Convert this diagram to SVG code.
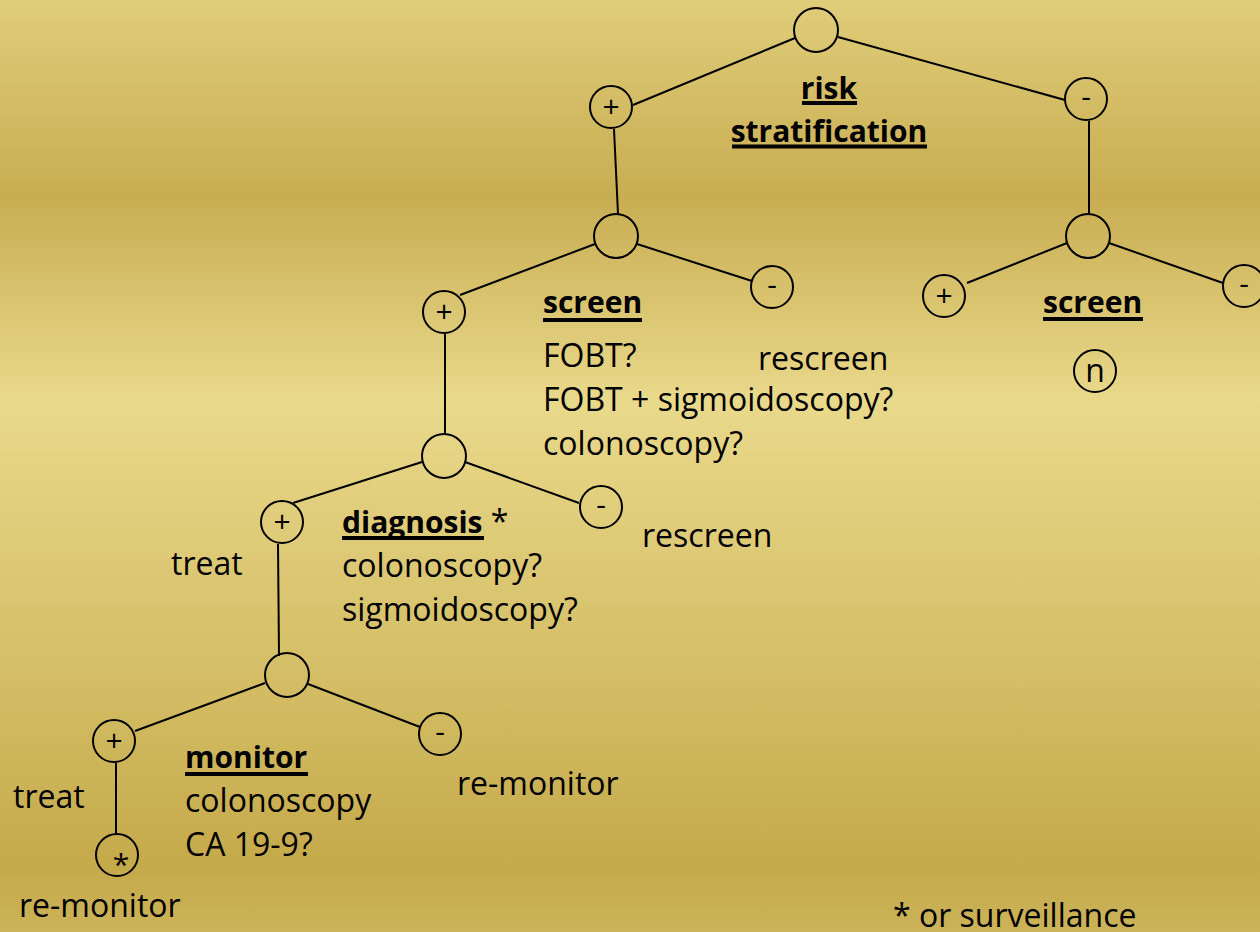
<svg xmlns="http://www.w3.org/2000/svg" width="1260" height="932" viewBox="0 0 1260 932">
<defs>
<linearGradient id="bg" x1="0" y1="0" x2="0" y2="1">
<stop offset="0" stop-color="#e0cd7a"/>
<stop offset="0.21" stop-color="#c8ad52"/>
<stop offset="0.43" stop-color="#e9d98b"/>
<stop offset="0.93" stop-color="#c5aa4b"/>
<stop offset="1" stop-color="#ccb359"/>
</linearGradient>
<style>
text{font-family:"Open Sans","Noto Sans",sans-serif;font-size:32px;fill:#000}
.b{font-weight:bold;font-size:30px}
.s{font-size:30px}
.c{text-anchor:middle}
circle{fill:none;stroke:#000;stroke-width:2}
line{stroke:#000;stroke-width:2}
.u{stroke-width:4}
</style>
</defs>
<rect width="1260" height="932" fill="url(#bg)"/>
<g id="connectors">
<line x1="795" y1="38" x2="633" y2="105"/>
<line x1="838" y1="37" x2="1065" y2="100"/>
<line x1="614" y1="129" x2="618" y2="214"/>
<line x1="1089" y1="121" x2="1089" y2="214"/>
<line x1="595" y1="244" x2="460" y2="295"/>
<line x1="637" y1="244" x2="752" y2="281"/>
<line x1="1067" y1="243" x2="967" y2="283"/>
<line x1="1109" y1="243" x2="1223" y2="283"/>
<line x1="445" y1="334" x2="445" y2="434"/>
<line x1="422" y1="462" x2="293" y2="503"/>
<line x1="465" y1="462" x2="579" y2="503"/>
<line x1="278" y1="544" x2="279" y2="656"/>
<line x1="265" y1="683" x2="135" y2="731"/>
<line x1="308" y1="684" x2="420" y2="727"/>
<line x1="116" y1="763" x2="116" y2="833"/>
</g>
<g id="root"><circle cx="816" cy="30" r="22"/>
<text class="b c" x="829" y="99">risk</text>
<text class="b c" x="829" y="142">stratification</text>
<line class="u" x1="802" y1="103" x2="857" y2="103"/>
<line class="u" x1="732" y1="146.5" x2="927" y2="146.5"/>
</g>
<g id="risk-plus"><circle cx="611" cy="107" r="21"/><text class="c s" x="611" y="117">+</text></g>
<g id="risk-minus"><circle cx="1086" cy="99" r="21"/><text class="c s" x="1086" y="107">-</text></g>
<g id="screen-left"><circle cx="616" cy="236" r="22"/>
<text class="b" x="543" y="313">screen</text>
<line class="u" x1="543" y1="320" x2="642" y2="320"/>
<text x="543" y="367">FOBT?</text>
<text x="543" y="411">FOBT + sigmoidoscopy?</text>
<text x="543" y="455">colonoscopy?</text>
</g>
<g id="screen-left-minus"><circle cx="772" cy="287" r="21"/><text class="c s" x="772" y="295">-</text>
<text x="758" y="370">rescreen</text></g>
<g id="screen-left-plus"><circle cx="444" cy="312" r="21"/><text class="c s" x="444" y="322">+</text></g>
<g id="screen-right"><circle cx="1088" cy="236" r="22"/>
<text class="b" x="1043" y="313">screen</text>
<line class="u" x1="1043" y1="319" x2="1143" y2="319"/>
</g>
<g id="screen-right-plus"><circle cx="944" cy="296" r="21"/><text class="c s" x="944" y="306">+</text></g>
<g id="screen-right-minus"><circle cx="1244" cy="286" r="21"/><text class="c s" x="1244" y="294">-</text></g>
<g id="screen-right-n"><circle cx="1095" cy="371" r="21"/><text class="c" x="1095" y="382">n</text></g>
<g id="diagnosis"><circle cx="444" cy="456" r="22"/>
<text x="342" y="533"><tspan class="b">diagnosis</tspan> *</text>
<line class="u" x1="342" y1="538" x2="484" y2="538"/>
<text x="342" y="577">colonoscopy?</text>
<text x="342" y="621">sigmoidoscopy?</text>
</g>
<g id="diagnosis-minus"><circle cx="601" cy="507" r="21"/><text class="c s" x="601" y="515">-</text>
<text x="642" y="547">rescreen</text></g>
<g id="diagnosis-plus"><circle cx="282" cy="522" r="21"/><text class="c s" x="282" y="532">+</text>
<text x="171" y="575">treat</text></g>
<g id="monitor"><circle cx="287" cy="675" r="22"/>
<text class="b" x="185" y="768">monitor</text>
<line class="u" x1="185" y1="774" x2="308" y2="774"/>
<text x="185" y="812">colonoscopy</text>
<text x="185" y="856">CA 19-9?</text>
</g>
<g id="monitor-minus"><circle cx="440" cy="734" r="21"/><text class="c s" x="440" y="742">-</text>
<text x="457" y="795">re-monitor</text></g>
<g id="monitor-plus"><circle cx="114" cy="741" r="21"/><text class="c s" x="114" y="751">+</text>
<text x="13" y="808">treat</text></g>
<g id="monitor-star"><circle cx="117" cy="855" r="21"/><text class="c s" x="121" y="875">*</text>
<text x="19" y="917">re-monitor</text></g>
<text x="893" y="927">* or surveillance</text>
</svg>
